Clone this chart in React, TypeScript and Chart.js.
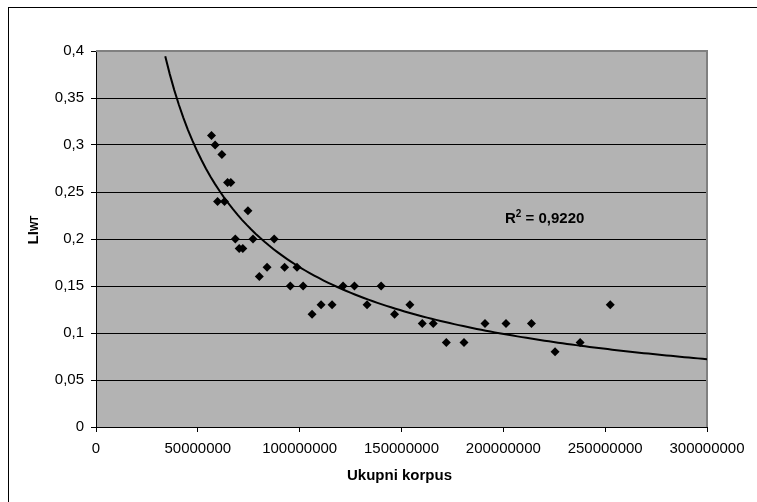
import React, { useEffect, useRef } from "react";
import { Chart, registerables } from "chart.js";

Chart.register(...registerables);

// Scatter data (x = ukupni korpus, y = LI_WT)
const corpusSizes = [
  56.7e6, 58.5e6, 59.7e6, 61.8e6, 63.1e6, 64.6e6, 66.2e6, 68.4e6, 70.3e6, 72.1e6,
  74.6e6, 77.1e6, 80.2e6, 84.0e6, 87.5e6, 92.6e6, 95.4e6, 98.7e6, 101.7e6, 106.1e6,
  110.5e6, 115.9e6, 121.3e6, 126.9e6, 133.1e6, 140.0e6, 146.6e6, 154.1e6, 160.2e6, 165.6e6,
  172.0e6, 180.7e6, 191.0e6, 201.3e6, 213.8e6, 225.4e6, 237.7e6, 252.5e6,
];
const liValues = [
  0.31, 0.30, 0.24, 0.29, 0.24, 0.26, 0.26, 0.20, 0.19, 0.19,
  0.23, 0.20, 0.16, 0.17, 0.20, 0.17, 0.15, 0.17, 0.15, 0.12,
  0.13, 0.13, 0.15, 0.15, 0.13, 0.15, 0.12, 0.13, 0.11, 0.11,
  0.09, 0.09, 0.11, 0.11, 0.11, 0.08, 0.09, 0.13,
];

const xTickLabels = ["0", "50000000", "100000000", "150000000", "200000000", "250000000", "300000000"];
const yTickLabels = ["0", "0,05", "0,1", "0,15", "0,2", "0,25", "0,3", "0,35", "0,4"];
const xAxisTitle = "Ukupni korpus";
const yAxisTitleMain = "LI";
const yAxisTitleSub = "WT";
const r2Label = "0,9220";

// Power trendline: y = trendAt100M * (x / 100000000) ^ trendExponent
const trendAt100M = 0.17;
const trendExponent = -0.78;
const trendStart = 34e6;
const trendEnd = 300e6;
const trendSamples = 120;

export default function App() {
  const canvasRef = useRef<HTMLCanvasElement | null>(null);

  useEffect(() => {
    const canvas = canvasRef.current;
    if (!canvas) return;
    const trend: { x: number; y: number }[] = [];
    for (let i = 0; i <= trendSamples; i++) {
      const x = trendStart + ((trendEnd - trendStart) * i) / trendSamples;
      trend.push({ x, y: trendAt100M * Math.pow(x / 1e8, trendExponent) });
    }
    const points = corpusSizes.map((x, i) => ({ x, y: liValues[i] }));

    const decor = {
      id: "decor",
      beforeDraw(chart: any) {
        const ctx = chart.ctx;
        const { left, top, right, bottom } = chart.chartArea;
        ctx.save();
        ctx.fillStyle = "#ffffff";
        ctx.fillRect(0, 0, chart.width, chart.height);
        ctx.strokeStyle = "#000000";
        ctx.lineWidth = 1;
        ctx.strokeRect(8.5, 7.5, chart.width + 20, chart.height + 20);
        ctx.fillStyle = "#b3b3b3";
        ctx.fillRect(left, top, right - left, bottom - top);
        ctx.restore();
      },
      beforeDatasetsDraw(chart: any) {
        const ctx = chart.ctx;
        const { left, top, right, bottom } = chart.chartArea;
        ctx.save();
        ctx.strokeStyle = "#808080";
        ctx.lineWidth = 2;
        ctx.beginPath();
        ctx.moveTo(left, top);
        ctx.lineTo(right, top);
        ctx.lineTo(right, bottom);
        ctx.stroke();
        ctx.restore();
      },
      afterDraw(chart: any) {
        const ctx = chart.ctx;
        const { left, right } = chart.chartArea;
        ctx.save();
        ctx.fillStyle = "#000000";
        // X title
        ctx.font = "bold 15px 'Liberation Sans', Arial, sans-serif";
        ctx.textAlign = "center";
        ctx.textBaseline = "middle";
        ctx.fillText(xAxisTitle, (left + right) / 2 - 2, 476);
        // Y title with subscript
        ctx.translate(38, 230);
        ctx.rotate(-Math.PI / 2);
        ctx.textBaseline = "alphabetic";
        ctx.textAlign = "left";
        ctx.font = "bold 15px 'Liberation Sans', Arial, sans-serif";
        const wMain = ctx.measureText(yAxisTitleMain).width;
        ctx.font = "bold 10px 'Liberation Sans', Arial, sans-serif";
        const wSub = ctx.measureText(yAxisTitleSub).width;
        const start = -(wMain + wSub) / 2;
        ctx.font = "bold 15px 'Liberation Sans', Arial, sans-serif";
        ctx.fillText(yAxisTitleMain, start, 0);
        ctx.font = "bold 10px 'Liberation Sans', Arial, sans-serif";
        ctx.fillText(yAxisTitleSub, start + wMain, 0);
        ctx.restore();

        // R^2 label
        ctx.save();
        ctx.fillStyle = "#000000";
        ctx.textBaseline = "alphabetic";
        ctx.textAlign = "left";
        let x = 505;
        const y = 223;
        ctx.font = "bold 15px 'Liberation Sans', Arial, sans-serif";
        ctx.fillText("R", x, y);
        x += ctx.measureText("R").width;
        ctx.font = "bold 10px 'Liberation Sans', Arial, sans-serif";
        ctx.fillText("2", x, y - 6);
        x += ctx.measureText("2").width;
        ctx.font = "bold 15px 'Liberation Sans', Arial, sans-serif";
        ctx.fillText(" = " + r2Label, x, y);
        ctx.restore();
      },
    };

    const chart = new Chart(canvas, {
      type: "scatter",
      data: {
        datasets: [
          {
            label: "trend",
            data: trend,
            showLine: true,
            borderColor: "#000000",
            borderWidth: 2,
            pointRadius: 0,
            pointHoverRadius: 0,
            tension: 0,
            order: 2,
          },
          {
            label: "LI",
            data: points,
            pointStyle: "rectRot",
            pointRadius: 4.5,
            pointBackgroundColor: "#000000",
            pointBorderColor: "#000000",
            pointBorderWidth: 0,
            order: 1,
          },
        ],
      },
      options: {
        animation: false,
        responsive: false,
        devicePixelRatio: 1,
        events: [],
        layout: { padding: { left: 0, top: 51, right: 50, bottom: 0 } },
        plugins: { legend: { display: false }, tooltip: { enabled: false }, title: { display: false } },
        scales: {
          x: {
            type: "linear",
            min: 0,
            max: 300e6,
            afterFit(scale: any) { scale.height = 75; },
            afterBuildTicks(scale: any) {
              scale.ticks = xTickLabels.map((_, i) => ({ value: i * 50e6 }));
            },
            ticks: {
              callback: (_v: any, i: number) => xTickLabels[i],
              color: "#000000",
              font: { family: "'Liberation Sans', Arial, sans-serif", size: 15 },
              padding: 8,
              maxRotation: 0,
              autoSkip: false,
            },
            grid: { drawOnChartArea: false, color: "#000000", tickLength: 5, tickColor: "#000000" },
            border: { color: "#000000", width: 1 },
          },
          y: {
            type: "linear",
            min: 0,
            max: 0.4,
            afterFit(scale: any) { scale.width = 96; },
            afterBuildTicks(scale: any) {
              scale.ticks = yTickLabels.map((_, i) => ({ value: i * 0.05 }));
            },
            ticks: {
              callback: (_v: any, i: number) => yTickLabels[i],
              color: "#000000",
              font: { family: "'Liberation Sans', Arial, sans-serif", size: 15 },
              padding: 7,
              autoSkip: false,
            },
            grid: {
              color: (c: any) => (c.index === 0 || c.index === yTickLabels.length - 1 ? "rgba(0,0,0,0)" : "#000000"),
              tickColor: "#000000",
              tickLength: 5,
              lineWidth: 1,
            },
            border: { color: "#000000", width: 1 },
          },
        },
      },
      plugins: [decor],
    });
    return () => chart.destroy();
  }, []);

  return (
    <div style={{ position: "fixed", left: 0, top: 0, width: 757, height: 502 }}>
      <canvas ref={canvasRef} width={757} height={502} style={{ display: "block" }} />
    </div>
  );
}
